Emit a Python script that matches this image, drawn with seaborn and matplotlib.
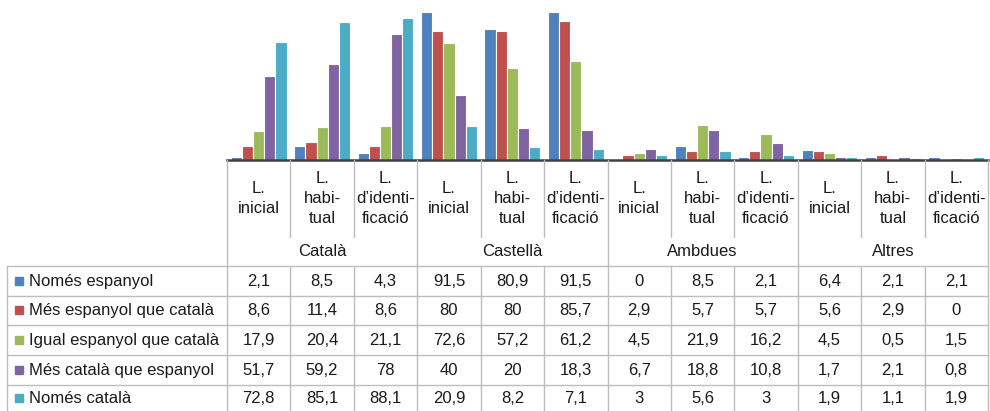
import numpy as np
import pandas as pd
import matplotlib
matplotlib.use("Agg")
import matplotlib.pyplot as plt
import seaborn as sns

sns.set_style("white")
plt.rcParams['font.family'] = ['Liberation Sans', 'DejaVu Sans']

# data
groups = ["Català", "Castellà", "Ambdues", "Altres"]
sub_labels = ["L.\ninicial", "L.\nhabi-\ntual", "L.\nd\u2019identi-\nficació"]
series = ["Només espanyol", "Més espanyol que català", "Igual espanyol que català",
          "Més català que espanyol", "Només català"]
colors = ["#4F81BD", "#C0504D", "#9BBB59", "#8064A2", "#4BACC6"]

nomes_espanyol = [2.1, 8.5, 4.3, 91.5, 80.9, 91.5, 0, 8.5, 2.1, 6.4, 2.1, 2.1]
mes_espanyol = [8.6, 11.4, 8.6, 80, 80, 85.7, 2.9, 5.7, 5.7, 5.6, 2.9, 0]
igual = [17.9, 20.4, 21.1, 72.6, 57.2, 61.2, 4.5, 21.9, 16.2, 4.5, 0.5, 1.5]
mes_catala = [51.7, 59.2, 78, 40, 20, 18.3, 6.7, 18.8, 10.8, 1.7, 2.1, 0.8]
nomes_catala = [72.8, 85.1, 88.1, 20.9, 8.2, 7.1, 3, 5.6, 3, 1.9, 1.1, 1.9]
values = [nomes_espanyol, mes_espanyol, igual, mes_catala, nomes_catala]

cats = [f"{g}|{s}" for g in groups for s in sub_labels]
rows = []
for name, vals in zip(series, values):
    for c, v in zip(cats, vals):
        rows.append({"cat": c, "serie": name, "val": v})
df = pd.DataFrame(rows)

W, H = 990, 411
fig = plt.figure(figsize=(W / 100, H / 100), dpi=100)

# layout in pixels
x0, x1 = 227, 988
y_axis = 160
y_sub = 237
y_rows = [266, 296, 325, 355, 385, 415]
left_col = 7

ax = fig.add_axes([x0 / W, (H - y_axis) / H, (x1 - x0) / W, y_axis / H])
sns.barplot(data=df, x="cat", y="val", hue="serie", order=cats, hue_order=series,
            palette=colors, width=0.88, edgecolor="white", linewidth=0.8,
            saturation=1, legend=False, ax=ax)
ax.set_ylim(0, 99)
ax.set_xlim(-0.5, len(cats) - 0.5)
ax.set_xlabel("")
ax.set_ylabel("")
ax.set_xticks([])
ax.set_yticks([])
for s in ["top", "left", "right"]:
    ax.spines[s].set_visible(False)
ax.spines["bottom"].set_color("#404040")
ax.spines["bottom"].set_linewidth(1.8)

# table overlay in pixel coords
tx = fig.add_axes([0, 0, 1, 1])
tx.set_xlim(0, W)
tx.set_ylim(H, 0)
tx.axis("off")
tx.patch.set_alpha(0)

lc = "#BDBDBD"
n = len(cats)
cw = (x1 - x0) / n
# vertical lines
for i in range(n + 1):
    xv = x0 + i * cw
    if i % 3 == 0:
        tx.plot([xv, xv], [y_axis, H], color=lc, lw=1)
    else:
        tx.plot([xv, xv], [y_axis, y_sub], color=lc, lw=1)
        tx.plot([xv, xv], [y_rows[0], H], color=lc, lw=1)
tx.plot([left_col, left_col], [y_rows[0], H], color=lc, lw=1)
# horizontal lines
for yv in y_rows[:-1]:
    tx.plot([left_col, x1], [yv, yv], color=lc, lw=1)

fs = 12
tc = "#1a1a1a"
# sub labels
for i, c in enumerate(cats):
    sub = c.split("|")[1]
    tx.text(x0 + (i + 0.5) * cw, (y_axis + y_sub) / 2, sub, ha="center", va="center",
            fontsize=fs, color=tc, linespacing=1.45)
# group labels
for g_i, g in enumerate(groups):
    tx.text(x0 + (g_i * 3 + 1.5) * cw, (y_sub + y_rows[0]) / 2, g, ha="center",
            va="center", fontsize=fs, color=tc)
# data rows
for r, (name, vals, col) in enumerate(zip(series, values, colors)):
    yc = (y_rows[r] + y_rows[r + 1]) / 2 if r < 4 else (y_rows[r] + 411) / 2
    tx.add_patch(plt.Rectangle((15, yc - 4.5), 8, 8, color=col))
    tx.text(29, yc, name, ha="left", va="center", fontsize=fs, color=tc)
    for i, v in enumerate(vals):
        txt = f"{v:g}".replace(".", ",")
        tx.text(x0 + (i + 0.5) * cw, yc, txt, ha="center", va="center",
                fontsize=fs, color=tc)

fig.savefig("out.png", dpi=100)
